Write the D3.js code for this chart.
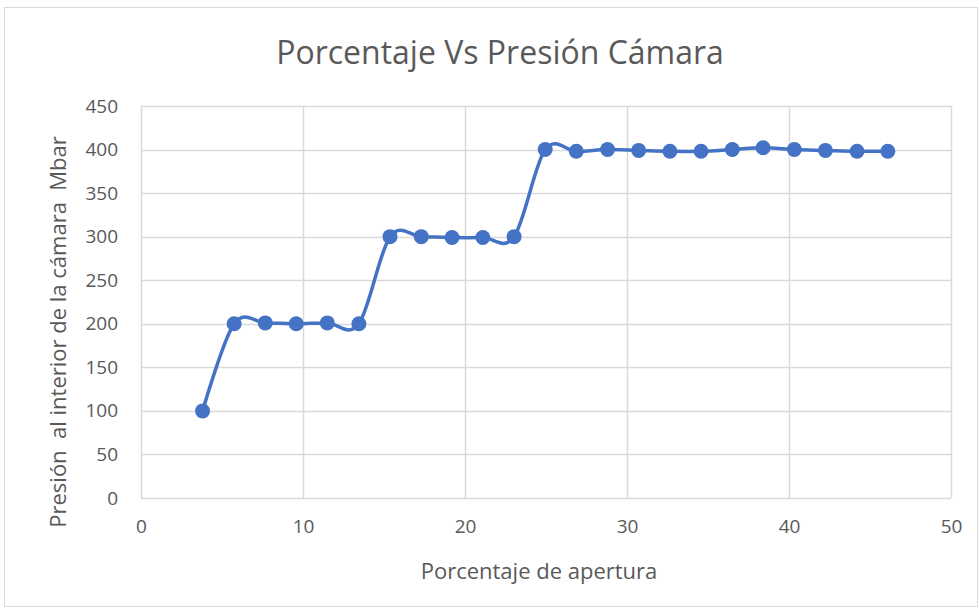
<!DOCTYPE html>
<html>
<head>
<meta charset="utf-8">
<script src="https://cdnjs.cloudflare.com/ajax/libs/d3/7.8.5/d3.min.js"></script>
<style>
  body { margin: 0; background: #fff; }
  text { font-family: "Open Sans", "Liberation Sans", sans-serif; fill: #595959; }
</style>
</head>
<body>
<div id="container"></div>
<script>
// Datos
var apertura = [3.8, 5.75, 7.67, 9.58, 11.5, 13.45, 15.37, 17.3, 19.2, 21.1, 23.03, 24.95,
  26.87, 28.8, 30.72, 32.65, 34.57, 36.5, 38.4, 40.33, 42.25, 44.2, 46.1];
var presion = [100, 200, 201, 200, 201, 200, 300, 300, 299, 299, 300, 400,
  398, 400, 399, 398, 398, 400, 402, 400, 399, 398, 398];
var xTicks = [0, 10, 20, 30, 40, 50];
var yTicks = [0, 50, 100, 150, 200, 250, 300, 350, 400, 450];

var W = 979, H = 609;
var margin = { top: 106, left: 141, right: 28, bottom: 111 },
  width = W - margin.left - margin.right,
  height = H - margin.top - margin.bottom;

var datos = apertura.map(function(d, i) { return { x: d, y: presion[i] }; });

var svgRoot = d3.select("#container")
  .append("svg")
  .attr("width", W)
  .attr("height", H);

// Borde del área del gráfico
svgRoot.append("rect")
  .attr("x", 4.5).attr("y", 7.5)
  .attr("width", W - 6).attr("height", H - 10)
  .attr("fill", "white")
  .attr("stroke", "#d9d9d9")
  .attr("stroke-width", 1);

var svg = svgRoot.append("g")
  .attr("transform", "translate(" + margin.left + "," + margin.top + ")");

// Escalas
var x = d3.scaleLinear().domain([0, 50]).range([0, width]);
var y = d3.scaleLinear().domain([0, 450]).range([height, 0]);

// Cuadrícula
svg.selectAll(".grid-y")
  .data(yTicks)
  .enter().append("line")
  .attr("x1", 0).attr("x2", width)
  .attr("y1", function(d) { return Math.round(y(d)) + 0.5; })
  .attr("y2", function(d) { return Math.round(y(d)) + 0.5; })
  .attr("stroke", "#d9d9d9")
  .attr("stroke-width", 1.5);

svg.selectAll(".grid-x")
  .data(xTicks)
  .enter().append("line")
  .attr("y1", 0).attr("y2", height)
  .attr("x1", function(d) { return Math.round(x(d)) + 0.5; })
  .attr("x2", function(d) { return Math.round(x(d)) + 0.5; })
  .attr("stroke", "#d9d9d9")
  .attr("stroke-width", 1.5);

// Ejes (solo etiquetas)
var xAxis = svg.append("g")
  .attr("transform", "translate(0," + height + ")")
  .call(d3.axisBottom(x).tickValues(xTicks).tickSize(0).tickPadding(22));
xAxis.select(".domain").remove();
xAxis.selectAll("text").attr("font-size", 19).attr("fill", "#595959")
  .style("font-family", "'Open Sans', sans-serif");

var yAxis = svg.append("g")
  .call(d3.axisLeft(y).tickValues(yTicks).tickSize(0).tickPadding(23));
yAxis.select(".domain").remove();
yAxis.selectAll("text").attr("font-size", 19).attr("fill", "#595959")
  .style("font-family", "'Open Sans', sans-serif");

// Línea suavizada
var linea = d3.line()
  .x(function(d) { return x(d.x); })
  .y(function(d) { return y(d.y); })
  .curve(d3.curveCardinal.tension(0));

svg.append("path")
  .datum(datos)
  .attr("d", linea)
  .attr("fill", "none")
  .attr("stroke", "#4472C4")
  .attr("stroke-width", 3.5)
  .attr("stroke-linecap", "round");

// Marcadores
svg.selectAll(".punto")
  .data(datos)
  .enter().append("circle")
  .attr("cx", function(d) { return x(d.x); })
  .attr("cy", function(d) { return y(d.y); })
  .attr("r", 7.5)
  .attr("fill", "#4472C4");

// Título
svgRoot.append("text")
  .text("Porcentaje Vs Presión Cámara")
  .attr("x", 500)
  .attr("y", 64)
  .attr("text-anchor", "middle")
  .attr("font-size", 32);

// Título eje X
svgRoot.append("text")
  .text("Porcentaje de apertura")
  .attr("x", 539)
  .attr("y", 579)
  .attr("text-anchor", "middle")
  .attr("font-size", 22);

// Título eje Y
svgRoot.append("text")
  .text("Presión\u00a0 al interior de la cámara\u00a0 Mbar")
  .attr("transform", "translate(66," + (margin.top + height / 2 + 30) + ") rotate(-90)")
  .attr("text-anchor", "middle")
  .attr("font-size", 22);
</script>
</body>
</html>
